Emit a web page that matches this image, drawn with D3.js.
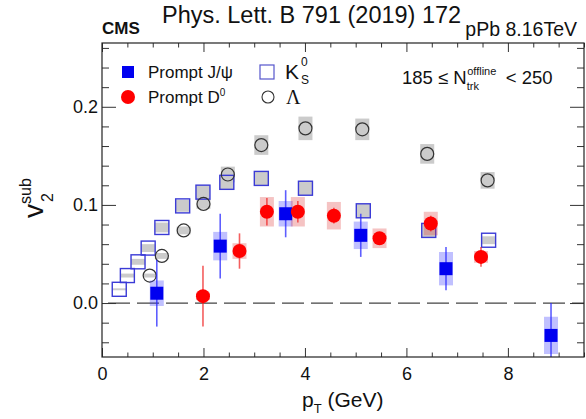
<!DOCTYPE html>
<html>
<head>
<meta charset="utf-8">
<script src="https://cdn.jsdelivr.net/npm/d3@7/dist/d3.min.js"></script>
<style>
  body { margin: 0; background: #fff; }
  svg { font-family: "Liberation Sans", Arial, sans-serif; }
</style>
</head>
<body>
<svg id="chart" width="586" height="419"></svg>
<script>
// ---- data
const jpsiPt   = [1.08, 2.33, 3.62, 5.10, 6.78, 8.85];
const jpsiV2   = [0.010, 0.058, 0.091, 0.069, 0.035, -0.033];
const jpsiStat = [0.034, 0.033, 0.024, 0.022, 0.022, 0.033];
const jpsiSys  = [0.013, 0.0145, 0.013, 0.014, 0.017, 0.019];

const d0Pt   = [1.99, 2.71, 3.25, 3.86, 4.57, 5.47, 6.48, 7.47];
const d0V2   = [0.007, 0.053, 0.093, 0.093, 0.089, 0.066, 0.081, 0.047];
const d0Stat = [0.031, 0.018, 0.014, 0.011, 0.008, 0.006, 0.008, 0.010];
const d0Sys  = [0.004, 0.008, 0.015, 0.015, 0.014, 0.010, 0.012, 0.006];

const ksPt  = [0.34, 0.50, 0.71, 0.91, 1.18, 1.59, 1.99, 2.46, 3.14, 4.01, 5.15, 6.44, 7.62];
const ksV2  = [0.014, 0.028, 0.042, 0.056, 0.077, 0.099, 0.113, 0.123, 0.127, 0.117, 0.094, 0.074, 0.064];
const ksSys = [0.001, 0.002, 0.003, 0.004, 0.005, 0.006, 0.007, 0.007, 0.007, 0.007, 0.007, 0.007, 0.004];

const lamPt  = [0.94, 1.18, 1.61, 2.00, 2.48, 3.14, 4.01, 5.13, 6.41, 7.60];
const lamV2  = [0.028, 0.048, 0.074, 0.101, 0.131, 0.161, 0.178, 0.177, 0.152, 0.125];
const lamSys = [0.002, 0.003, 0.004, 0.005, 0.008, 0.010, 0.012, 0.011, 0.010, 0.0085];

const xMajor = [0, 2, 4, 6, 8];
const yMajor = [0.0, 0.1, 0.2];

const zip = (pt, v, stat, sys) => pt.map((p, i) => ({ x: p, y: v[i], stat: stat ? stat[i] : 0, sys: sys ? sys[i] : 0 }));
const jpsi = zip(jpsiPt, jpsiV2, jpsiStat, jpsiSys);
const d0   = zip(d0Pt, d0V2, d0Stat, d0Sys);
const ks   = zip(ksPt, ksV2, null, ksSys);
const lam  = zip(lamPt, lamV2, null, lamSys);

// ---- layout
const m = { left: 102, right: 584, top: 43, bottom: 357 };
const svg = d3.select('#chart');

const x = d3.scaleLinear().domain([0, 9.5]).range([m.left, m.right]);
const y = d3.scaleLinear().domain([-0.055, 0.265]).range([m.bottom, m.top]);

const plot = svg.append('g');
plot.append('clipPath').attr('id', 'clip')
  .append('rect').attr('x', m.left).attr('y', m.top)
  .attr('width', m.right - m.left).attr('height', m.bottom - m.top);
const inner = plot.append('g').attr('clip-path', 'url(#clip)');

// axes: ticks pointing inward on all four sides
const xMinor = d3.range(0, 9.51, 0.5).filter(v => xMajor.indexOf(v) < 0);
const yMinor = d3.range(-0.04, 0.261, 0.02).filter(v => !yMajor.some(t => Math.abs(t - v) < 1e-6));

function tickAxis(axisFn, scale, values, size, pos) {
  const g = svg.append('g').attr('transform', pos)
    .call(axisFn(scale).tickValues(values).tickSize(size).tickFormat(''));
  g.select('.domain').remove();
  g.selectAll('line').attr('stroke', '#333').attr('stroke-width', 1);
}
tickAxis(d3.axisTop, x, xMajor, 9, `translate(0,${m.bottom})`);
tickAxis(d3.axisTop, x, xMinor, 4.5, `translate(0,${m.bottom})`);
tickAxis(d3.axisBottom, x, xMajor, 9, `translate(0,${m.top})`);
tickAxis(d3.axisBottom, x, xMinor, 4.5, `translate(0,${m.top})`);
tickAxis(d3.axisRight, y, yMajor, 14, `translate(${m.left},0)`);
tickAxis(d3.axisRight, y, yMinor, 7, `translate(${m.left},0)`);
tickAxis(d3.axisLeft, y, yMajor, 14, `translate(${m.right},0)`);
tickAxis(d3.axisLeft, y, yMinor, 7, `translate(${m.right},0)`);

// tick labels
const xl = svg.append('g').attr('transform', `translate(0,${m.bottom})`)
  .call(d3.axisBottom(x).tickValues(xMajor).tickSize(0).tickPadding(10).tickFormat(d3.format('d')));
xl.select('.domain').remove();
xl.selectAll('text').attr('font-size', 18).attr('fill', '#111').attr('font-family', '"Liberation Sans", Arial');
const yl = svg.append('g').attr('transform', `translate(${m.left},0)`)
  .call(d3.axisLeft(y).tickValues(yMajor).tickSize(0).tickPadding(4).tickFormat(d3.format('.1f')));
yl.select('.domain').remove();
yl.selectAll('text').attr('font-size', 18).attr('fill', '#111').attr('font-family', '"Liberation Sans", Arial');

// zero line
inner.append('line')
  .attr('x1', m.left).attr('x2', m.right).attr('y1', y(0)).attr('y2', y(0))
  .attr('stroke', '#444').attr('stroke-width', 1.3).attr('stroke-dasharray', '22,7')
  .attr('stroke-dashoffset', -6);

// systematic boxes
function sysBoxes(data, half, fill) {
  inner.append('g').selectAll('rect').data(data).enter().append('rect')
    .attr('x', d => x(d.x) - half).attr('width', 2 * half)
    .attr('y', d => y(d.y + d.sys)).attr('height', d => Math.max(1, y(d.y - d.sys) - y(d.y + d.sys)))
    .attr('fill', fill);
}
sysBoxes(ks, 7, '#cbcbcb');
sysBoxes(lam, 7, '#cbcbcb');

// K0S open squares
inner.append('g').selectAll('rect').data(ks).enter().append('rect')
  .attr('x', d => x(d.x) - 7).attr('y', d => y(d.y) - 7)
  .attr('width', 14).attr('height', 14)
  .attr('fill', 'none').attr('stroke', '#3b3bd6').attr('stroke-width', 1.4);

// Lambda open circles
inner.append('g').selectAll('circle').data(lam).enter().append('circle')
  .attr('cx', d => x(d.x)).attr('cy', d => y(d.y)).attr('r', 6.5)
  .attr('fill', 'none').attr('stroke', '#333').attr('stroke-width', 1.2);

sysBoxes(jpsi, 7, 'rgba(60,60,255,0.32)');
sysBoxes(d0, 7, 'rgba(220,40,40,0.28)');

// statistical bars
function statBars(data, color) {
  inner.append('g').selectAll('line').data(data).enter().append('line')
    .attr('x1', d => x(d.x)).attr('x2', d => x(d.x))
    .attr('y1', d => y(d.y + d.stat)).attr('y2', d => y(d.y - d.stat))
    .attr('stroke', color).attr('stroke-width', 1.6);
}
statBars(jpsi, 'rgba(40,40,255,0.75)');
statBars(d0, 'rgba(240,40,40,0.75)');

// J/psi filled squares
inner.append('g').selectAll('rect').data(jpsi).enter().append('rect')
  .attr('x', d => x(d.x) - 6.5).attr('y', d => y(d.y) - 6.5)
  .attr('width', 13).attr('height', 13).attr('fill', '#0000f0');

// D0 filled circles
inner.append('g').selectAll('circle').data(d0).enter().append('circle')
  .attr('cx', d => x(d.x)).attr('cy', d => y(d.y)).attr('r', 7)
  .attr('fill', '#ff0000');

// frame
svg.append('rect').attr('x', m.left).attr('y', m.top)
  .attr('width', m.right - m.left).attr('height', m.bottom - m.top)
  .attr('fill', 'none').attr('stroke', '#222').attr('stroke-width', 1.2);

// ---- legend
const lg = svg.append('g').attr('font-size', 17).attr('fill', '#111');
lg.append('rect').attr('x', 122).attr('y', 66).attr('width', 12).attr('height', 12).attr('fill', '#0000f0');
lg.append('text').attr('x', 148).attr('y', 78).text('Prompt J/ψ');
lg.append('circle').attr('cx', 128).attr('cy', 97).attr('r', 7).attr('fill', '#ff0000');
lg.append('text').attr('x', 148).attr('y', 103).text('Prompt D')
  .append('tspan').attr('dy', -7).attr('font-size', 10).text('0');
lg.append('rect').attr('x', 260).attr('y', 65).attr('width', 14).attr('height', 14)
  .attr('fill', 'none').attr('stroke', '#5555cc').attr('stroke-width', 1.2);
lg.append('circle').attr('cx', 268).attr('cy', 97).attr('r', 6)
  .attr('fill', 'none').attr('stroke', '#333').attr('stroke-width', 1.1);
const kt = lg.append('text').attr('x', 285).attr('y', 79).attr('font-size', 21);
kt.append('tspan').text('K');
kt.append('tspan').attr('x', 301).attr('y', 66).attr('font-size', 12).text('0');
kt.append('tspan').attr('x', 301).attr('y', 84).attr('font-size', 12).text('S');
lg.append('text').attr('x', 286).attr('y', 104).attr('font-size', 20)
  .attr('font-family', '"Liberation Serif", serif').text('Λ');

// multiplicity range, sub/superscripts placed after measuring the main text
const nt = svg.append('text').attr('x', 402).attr('y', 84).attr('font-size', 18.5).attr('fill', '#111');
const nMain = nt.append('tspan').text('185 ≤ N');
const nEnd = 402 + nMain.node().getComputedTextLength();
const nSup = nt.append('tspan').attr('x', nEnd + 0.5).attr('dy', -9).attr('font-size', 11).text('offline');
const supLen = nSup.node().getComputedTextLength();
nt.append('tspan').attr('x', nEnd).attr('dy', 15).attr('font-size', 11).text('trk');
nt.append('tspan').attr('x', nEnd + supLen + 10).attr('dy', -6).text('< 250');

// ---- titles
svg.append('text').attr('x', 102).attr('y', 34).attr('font-size', 17).attr('font-weight', 'bold')
  .attr('fill', '#111').text('CMS');
svg.append('text').attr('x', 162).attr('y', 23).attr('font-size', 23.5).attr('fill', '#111')
  .text('Phys. Lett. B 791 (2019) 172');
svg.append('text').attr('x', 577).attr('y', 36).attr('font-size', 19.5).attr('text-anchor', 'end')
  .attr('fill', '#111').text('pPb 8.16TeV');

// axis titles
const xt = svg.append('text').attr('x', 302).attr('y', 407).attr('font-size', 21).attr('fill', '#111');
xt.append('tspan').text('p');
xt.append('tspan').attr('dy', 6).attr('font-size', 13).text('T');
xt.append('tspan').attr('dy', -6).text(' (GeV)');

const yt = svg.append('text').attr('transform', 'translate(43,218) rotate(-90)')
  .attr('font-size', 28).attr('fill', '#111');
yt.append('tspan').text('v');
yt.append('tspan').attr('dy', -12).attr('font-size', 16).text('sub');
yt.append('tspan').attr('x', 16).attr('dy', 22).attr('font-size', 16).text('2');
</script>
</body>
</html>
